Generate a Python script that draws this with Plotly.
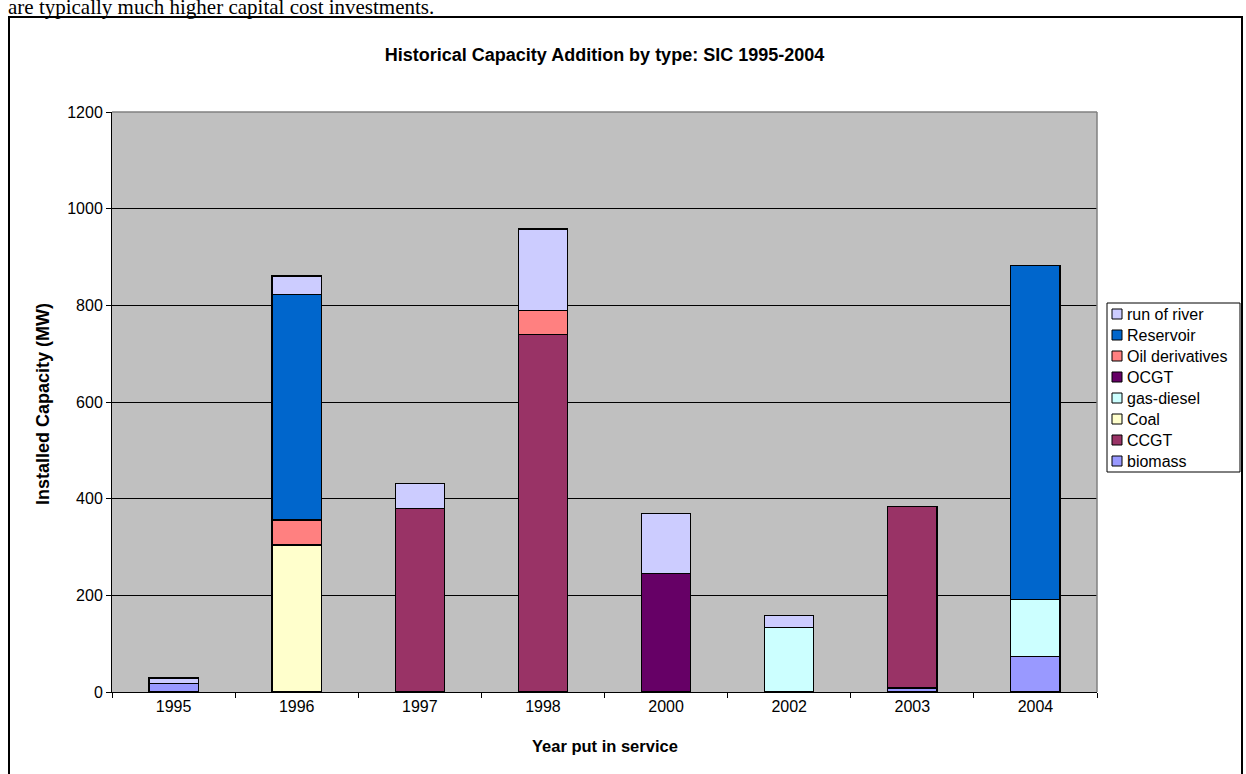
import plotly.graph_objects as go

years = ["1995", "1996", "1997", "1998", "2000", "2002", "2003", "2004"]

# stacking order bottom -> top
series_names = ["biomass", "CCGT", "Coal", "gas-diesel", "OCGT",
                "Oil derivatives", "Reservoir", "run of river"]
series_colors = ["#9999FF", "#993366", "#FFFFCC", "#CCFFFF", "#660066",
                 "#FF8080", "#0066CC", "#CCCCFF"]

biomass         = [17, 0, 0, 0, 0, 0, 8, 73]
ccgt            = [0, 0, 380, 739, 0, 0, 376, 0]
coal            = [0, 304, 0, 0, 0, 0, 0, 0]
gas_diesel      = [0, 0, 0, 0, 0, 133, 0, 119]
ocgt            = [0, 0, 0, 0, 245, 0, 0, 0]
oil_derivatives = [0, 52, 0, 50, 0, 0, 0, 0]
reservoir       = [0, 467, 0, 0, 0, 0, 0, 690]
run_of_river    = [12, 38, 51, 169, 124, 26, 0, 0]

series_values = [biomass, ccgt, coal, gas_diesel, ocgt,
                 oil_derivatives, reservoir, run_of_river]

y_ticks = [0, 200, 400, 600, 800, 1000, 1200]

FONT = "Liberation Sans, Arial, sans-serif"
W, H = 1246, 774
ML, MR, MT, MB = 112, 149, 112, 82
PW, PH = W - ML - MR, H - MT - MB


def px(x):
    return (x - ML) / PW


def py(y):
    return (H - MB - y) / PH


fig = go.Figure()
for name, color, vals in zip(series_names, series_colors, series_values):
    fig.add_trace(go.Bar(
        x=years, y=vals, name=name, width=0.4,
        marker=dict(color=color, line=dict(color="black", width=1.3)),
        showlegend=False,
    ))

shapes = []
annotations = []

# plot area top/right border (gray)
shapes.append(dict(type="line", xref="paper", yref="paper", x0=0, x1=1, y0=1, y1=1,
                   line=dict(color="#808080", width=1.5), layer="above"))
shapes.append(dict(type="line", xref="paper", yref="paper", x0=1, x1=1, y0=0, y1=1,
                   line=dict(color="#808080", width=1.5), layer="above"))

# chart outer border
shapes.append(dict(type="rect", xref="paper", yref="paper",
                   x0=px(9), x1=px(1242), y0=py(790), y1=py(17),
                   line=dict(color="black", width=2), fillcolor="rgba(0,0,0,0)",
                   layer="above"))

# legend (top entry = last stacked series)
LX0, LX1, LY0 = 1107, 1240, 303
ROW = 21
n = len(series_names)
shapes.append(dict(type="rect", xref="paper", yref="paper",
                   x0=px(LX0), x1=px(LX1), y0=py(LY0 + n * ROW + 1), y1=py(LY0),
                   line=dict(color="black", width=1), fillcolor="white", layer="above"))
for i, (name, color) in enumerate(zip(reversed(series_names), reversed(series_colors))):
    cy = LY0 + 11 + i * ROW
    shapes.append(dict(type="rect", xref="paper", yref="paper",
                       x0=px(1112), x1=px(1122), y0=py(cy + 5), y1=py(cy - 5),
                       line=dict(color="black", width=1), fillcolor=color, layer="above"))
    annotations.append(dict(xref="paper", yref="paper", x=px(1125), y=py(cy),
                            xanchor="left", yanchor="middle", text=name, showarrow=False,
                            font=dict(family=FONT, size=16, color="black")))

# axis titles
annotations.append(dict(xref="paper", yref="paper", x=px(43), y=py(404),
                        xanchor="center", yanchor="middle", textangle=-90,
                        text="<b>Installed Capacity (MW)</b>", showarrow=False,
                        font=dict(family=FONT, size=18, color="black")))
annotations.append(dict(xref="paper", yref="paper", x=0.5, y=py(746),
                        xanchor="center", yanchor="middle",
                        text="<b>Year put in service</b>", showarrow=False,
                        font=dict(family=FONT, size=16.5, color="black")))

# text of the surrounding document, cut at the top
annotations.append(dict(xref="paper", yref="paper", x=px(6), y=py(7),
                        xanchor="left", yanchor="middle",
                        text="are typically much higher capital cost investments.",
                        showarrow=False,
                        font=dict(family="Liberation Serif, Times New Roman, serif",
                                  size=21, color="black")))

fig.update_layout(
    width=W, height=H, autosize=False,
    margin=dict(l=ML, r=MR, t=MT, b=MB, pad=0),
    paper_bgcolor="white", plot_bgcolor="#C0C0C0",
    barmode="stack", bargap=0.6,
    title=dict(text="<b>Historical Capacity Addition by type: SIC 1995-2004</b>",
               xref="paper", yref="container", x=0.5, y=1 - 55 / H,
               xanchor="center", yanchor="middle",
               font=dict(family=FONT, size=18, color="black")),
    xaxis=dict(type="category", categoryorder="array", categoryarray=years,
               tickson="boundaries", ticks="outside", ticklen=5, tickcolor="black",
               showline=True, linecolor="black", linewidth=1, showgrid=False,
               tickfont=dict(family=FONT, size=16, color="black")),
    yaxis=dict(range=[0, 1200], tickvals=y_ticks, ticks="outside", ticklen=5,
               tickcolor="black", showline=True, linecolor="black", linewidth=1,
               showgrid=True, gridcolor="black", gridwidth=1, zeroline=False,
               tickfont=dict(family=FONT, size=16, color="black")),
    shapes=shapes, annotations=annotations,
    font=dict(family=FONT, color="black"),
)

fig.write_html("out.html")
